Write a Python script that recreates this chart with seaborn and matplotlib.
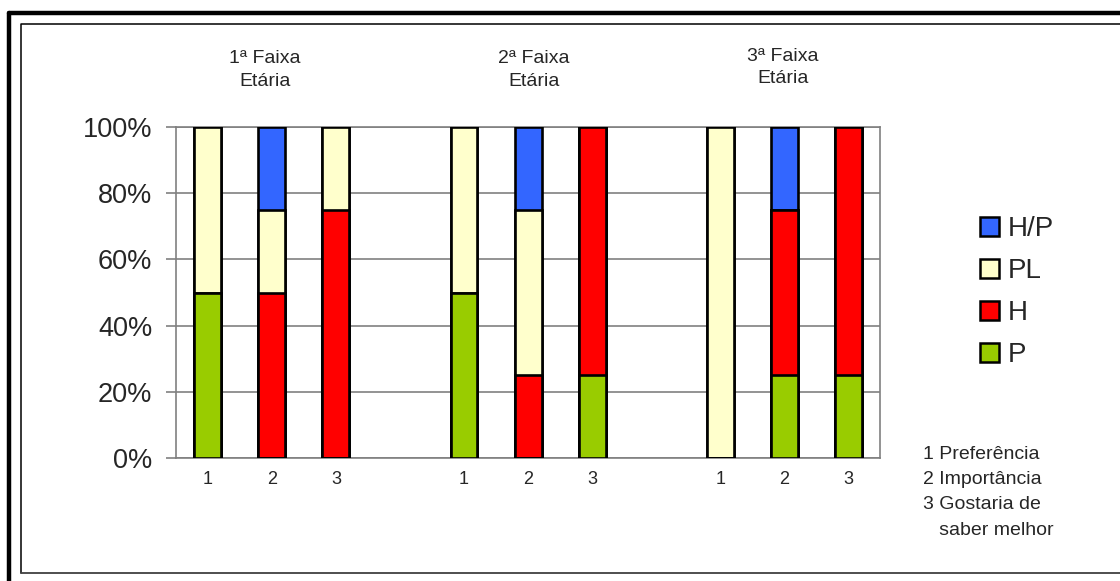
import pandas as pd
import matplotlib.pyplot as plt
import seaborn as sns
from matplotlib.patches import Patch
from matplotlib.lines import Line2D
from matplotlib.ticker import FuncFormatter

sns.set_style('white')
plt.rcParams['font.family'] = ['Liberation Sans', 'DejaVu Sans']

# data (percent of each bar)
faixas = ['1ª Faixa\nEtária', '2ª Faixa\nEtária', '3ª Faixa\nEtária']
itens = ['1', '2', '3']
p_vals = [50, 0, 0, 50, 0, 25, 0, 25, 25]
h_vals = [0, 50, 75, 0, 25, 75, 0, 50, 75]
pl_vals = [50, 25, 25, 50, 50, 0, 100, 0, 0]
hp_vals = [0, 25, 0, 0, 25, 0, 0, 25, 0]

series = ['P', 'H', 'PL', 'H/P']
colors = {'P': '#99cc00', 'H': '#ff0000', 'PL': '#ffffcc', 'H/P': '#3366ff'}

keys = [f'{g}|{i}' for g in range(len(faixas)) for i in itens]
df = pd.DataFrame({'key': keys, 'P': p_vals, 'H': h_vals, 'PL': pl_vals, 'H/P': hp_vals})

# category order with an empty slot between the age groups
order = []
for g in range(len(faixas)):
    order += [f'{g}|{i}' for i in itens]
    if g < len(faixas) - 1:
        order.append(f'gap{g}')
tick_labels = [k.split('|')[1] if '|' in k else '' for k in order]

# cumulative tops, drawn from the tallest down so each layer covers the rest
cum = df[series].cumsum(axis=1)

fig = plt.figure(figsize=(11.2, 5.81), dpi=100)
ax = fig.add_axes([0.157, 0.2117, 0.629, 0.5697])

for s in reversed(series):
    sns.barplot(x=df['key'], y=cum[s], order=order, color=colors[s], saturation=1,
                width=0.42, edgecolor='black', linewidth=1.9, errorbar=None, ax=ax, zorder=3)

ax.set_ylim(0, 100)
ax.set_yticks(range(0, 101, 20))
ax.yaxis.set_major_formatter(FuncFormatter(lambda v, _: f'{v:.0f}%'))
ax.set_xticks(range(len(order)))
ax.set_xticklabels(tick_labels)
ax.set_xlabel('')
ax.set_ylabel('')
ax.grid(axis='y', color='#808080', linewidth=1.2, zorder=0)
ax.set_axisbelow(True)
for sp in ax.spines.values():
    sp.set_visible(True)
    sp.set_color('#808080')
    sp.set_linewidth(1.2)
ax.tick_params(axis='y', length=7, width=1.2, color='#808080', direction='out',
               labelsize=19.5, pad=10, left=True)
ax.tick_params(axis='x', length=0, labelsize=13, pad=9)

# group titles
fig.text(265 / 1120, 1 - 70 / 581, faixas[0], ha='center', va='center', fontsize=14, linespacing=1.42)
fig.text(534 / 1120, 1 - 70 / 581, faixas[1], ha='center', va='center', fontsize=14, linespacing=1.42)
fig.text(783 / 1120, 1 - 67.5 / 581, faixas[2], ha='center', va='center', fontsize=14, linespacing=1.42)

# legend
handles = [Patch(facecolor=colors[s], edgecolor='black', linewidth=1.8, label=s) for s in reversed(series)]
fig.legend(handles=handles, loc='upper left', bbox_to_anchor=(980 / 1120, 1 - 216 / 581),
           frameon=False, fontsize=20, handlelength=0.68, handleheight=0.68,
           handletextpad=0.33, labelspacing=0.58, borderpad=0, borderaxespad=0)

# footnote
fig.text(923 / 1120, 1 - 446 / 581, '1 Preferência\n2 Importância\n3 Gostaria de\n   saber melhor',
         ha='left', va='top', fontsize=14, linespacing=1.63)

# outer frame
fig.add_artist(Line2D([9 / 1120, 9 / 1120], [0, 1 - 13 / 581], color='black', linewidth=3.2))
fig.add_artist(Line2D([9 / 1120, 1], [1 - 13 / 581, 1 - 13 / 581], color='black', linewidth=3.2))
fig.add_artist(Line2D([21 / 1120, 21 / 1120, 1], [1 - 573 / 581, 1 - 24 / 581, 1 - 24 / 581],
                      color='black', linewidth=1.1))
fig.add_artist(Line2D([21 / 1120, 1], [1 - 573 / 581, 1 - 573 / 581], color='#404040', linewidth=1.3))

fig.savefig('out.png', dpi=100)
plt.close()
